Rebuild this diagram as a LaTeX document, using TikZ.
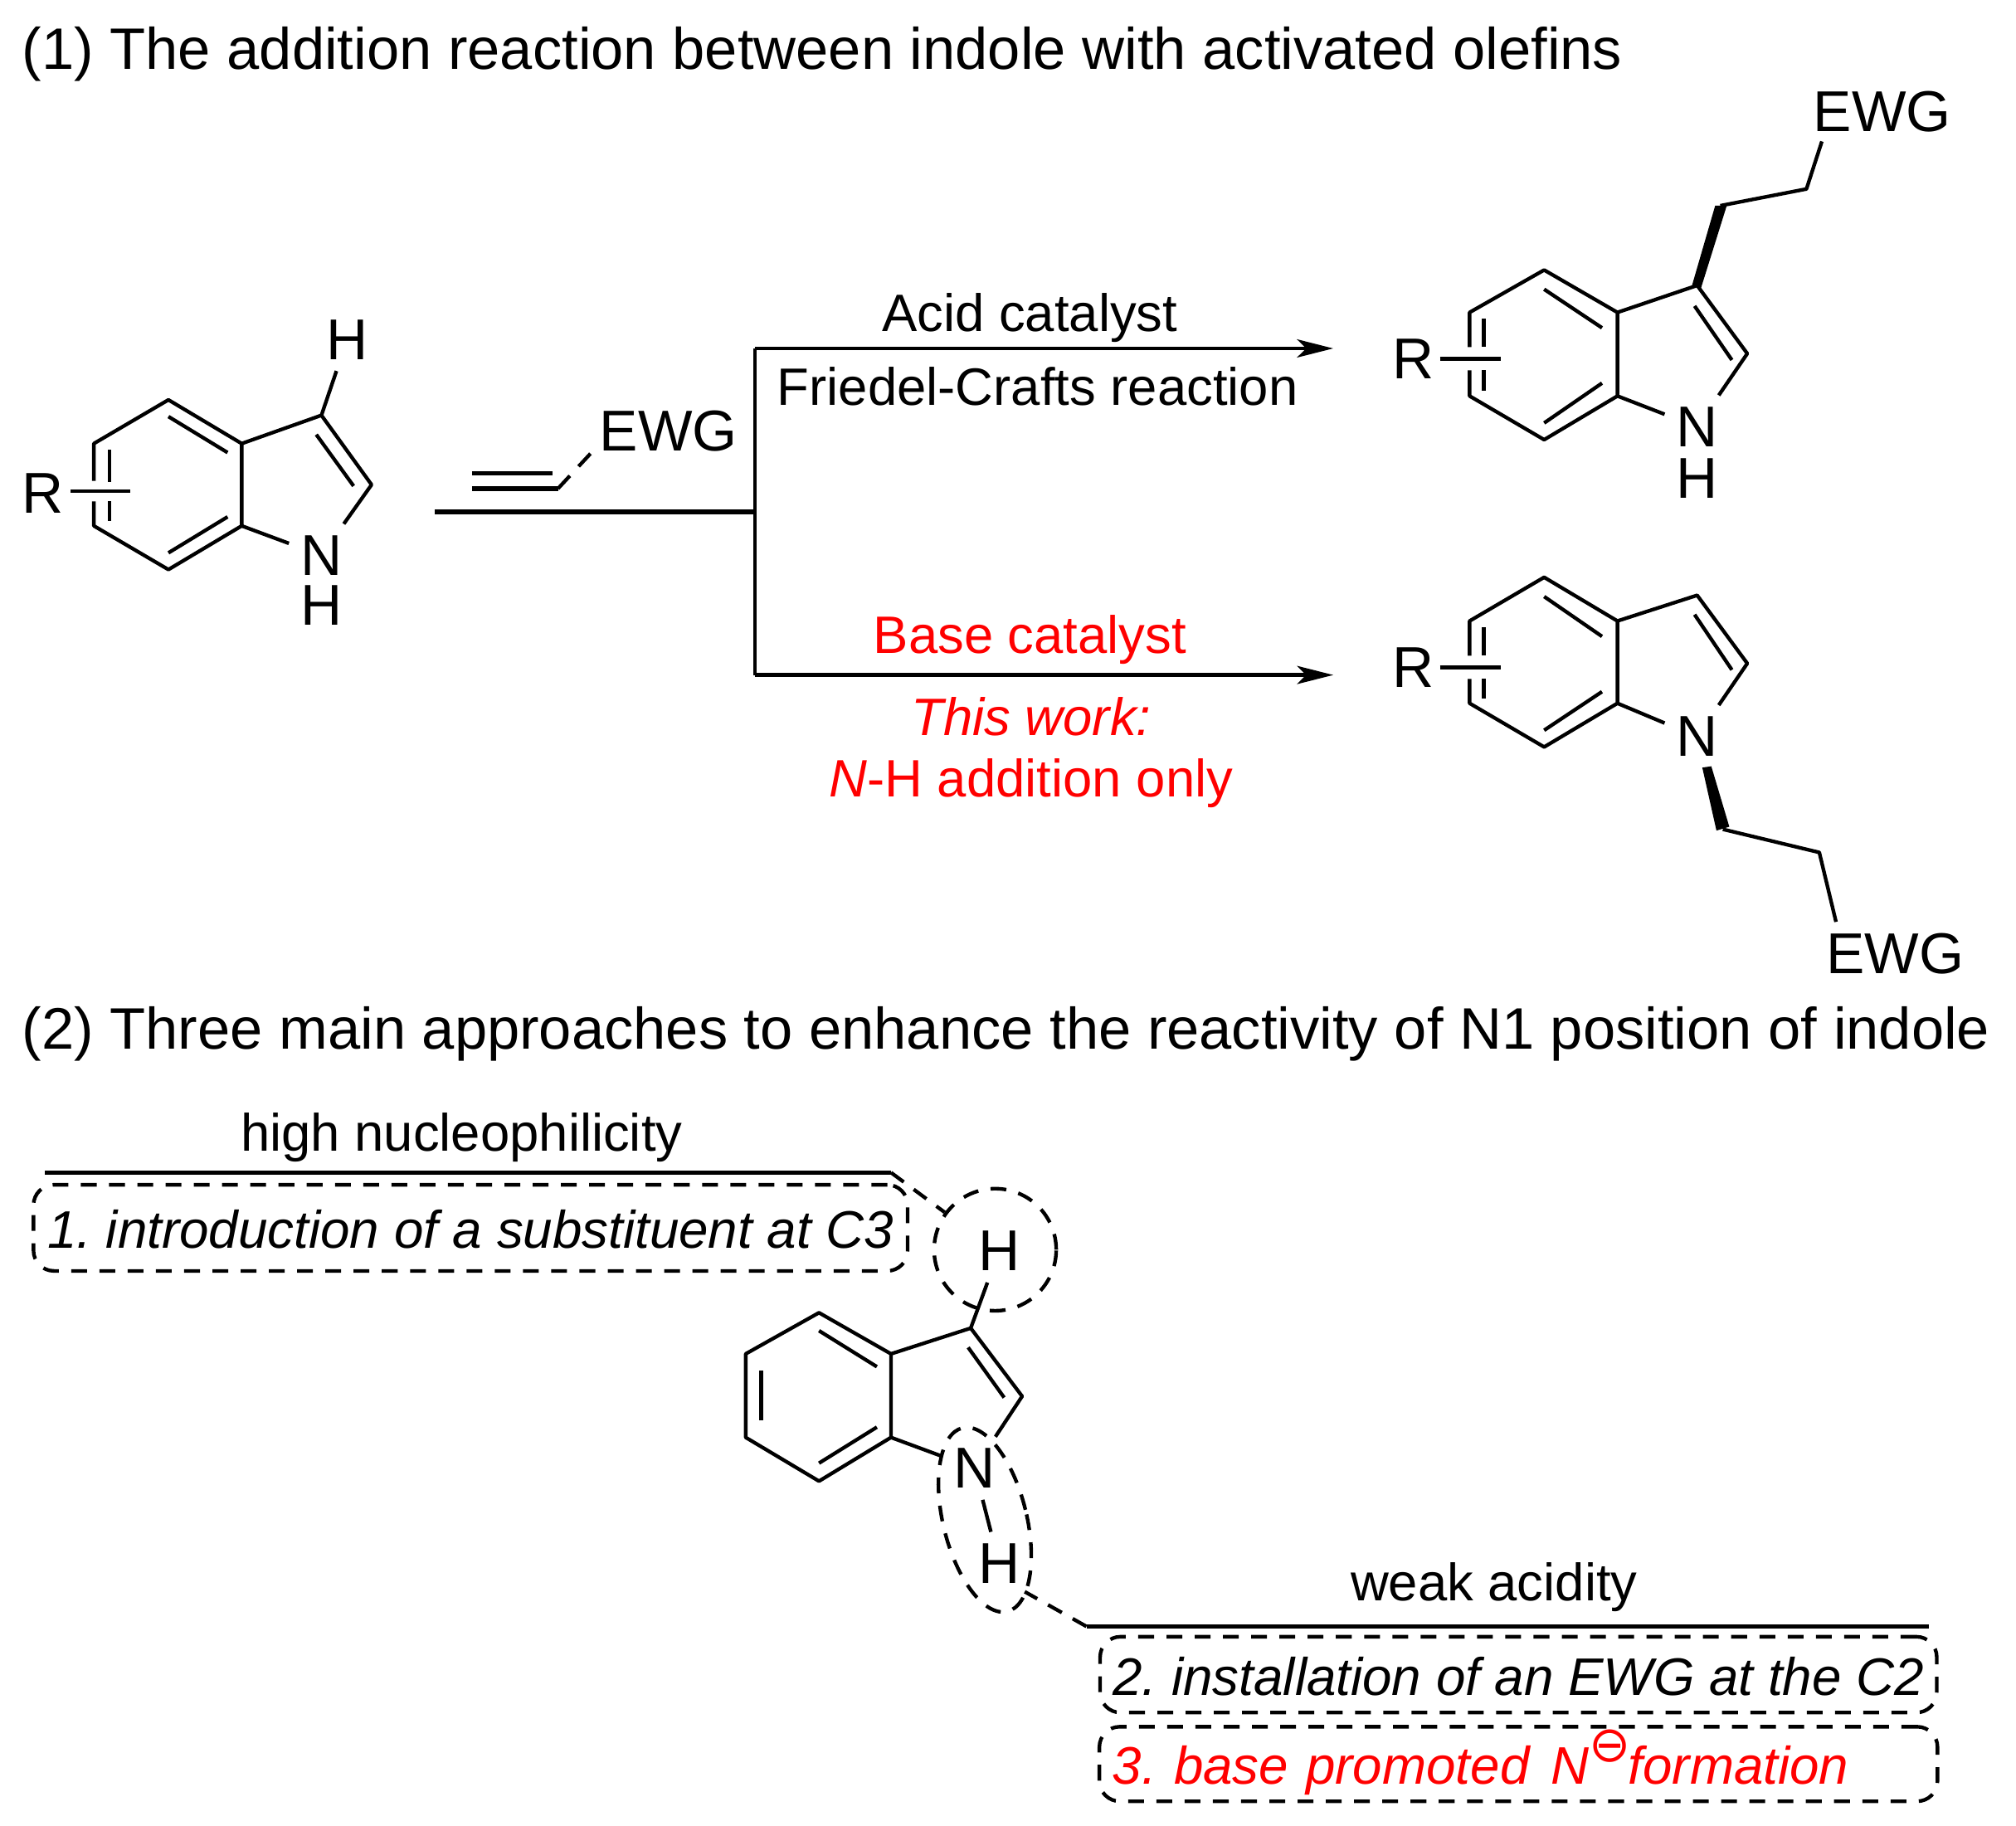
\documentclass[tikz,border=0pt]{standalone}
\usepackage{fontspec}
\setmainfont{Liberation Sans}
\newfontfamily\symfont{DejaVu Sans}
\frenchspacing
\usetikzlibrary{arrows.meta,shapes.geometric}

\tikzset{
  bond/.style={line width=1.6pt,line join=round},
  rule/.style={line width=2pt},
  react/.style={line width=1.7pt,-{Stealth[length=16pt,width=8pt,inset=4pt]}},
  atom/.style={inner sep=5pt,font=\fontsize{25.5}{30}\selectfont},
  hatom/.style={inner sep=0pt,font=\fontsize{25.5}{30}\selectfont},
  caption/.style={inner sep=0pt,anchor=base,font=\fontsize{23.3}{28}\selectfont},
  headline/.style={inner sep=0pt,anchor=base west,font=\fontsize{25.9}{30}\selectfont},
  dashes/.style={line width=1.6pt,dash pattern=on 7pt off 5.5pt},
  dashbox/.style={draw,dashes,rounded corners=9pt,inner xsep=0.2cm,inner ysep=0pt,font=\fontsize{23.4}{28}\itshape\selectfont,text height=20pt,text depth=2pt},
  twoway/.style={bond,dash pattern=on 7.7pt off 5.7pt}
}
\definecolor{workred}{RGB}{255,0,0}

\begin{document}
\begin{tikzpicture}[x=0.02cm,y=-0.02cm]

\useasboundingbox (0,0) rectangle (1568,1419.6);

\node[headline] (title1) at (17,54) {(1) The addition reaction between indole with activated olefins};
\node[headline] (title2) at (17,816) {(2) Three main approaches to enhance the reactivity of N1 position of indole};

\coordinate (a1) at (73,345);
\coordinate (a2) at (131,311);
\coordinate (a3) at (188,345);
\coordinate (a4) at (188,409);
\coordinate (a5) at (131,443);
\coordinate (a6) at (73,409);
\coordinate (a7) at (250,323);
\coordinate (a8) at (289,377);
\node[atom] (an) at (250,432) {N};
\node[hatom] (ah) at (250,471) {H};
\node[atom] (ahtop) at (270,264) {H};
\node[atom] (ar) at (33,384) {R};
\coordinate (ar1) at (55,382);
\coordinate (ar2) at (101,382);
\draw[bond] (73,374) -- (a1) -- (a2) -- (a3) -- (a4) -- (a5) -- (a6) -- (73,390);
\draw[bond] (a3) -- (a7) -- (a8) -- (an);
\draw[bond] (a4) -- (an);
\draw[bond] (a7) -- (ahtop);
\draw[bond] (ar1) -- (ar2);
\draw[bond] (85,350) -- (85,375);
\draw[bond] (85,390) -- (85,405);
\draw[bond] (131,324) -- (177,352);
\draw[bond] (131,430) -- (177,402);
\draw[bond] (246,338) -- (275,378);

\node[atom] (ewga) at (520,335) {EWG};
\coordinate (ole1) at (367,368);
\coordinate (ole2) at (430,368);
\coordinate (ole3) at (367,380);
\coordinate (ole4) at (434,380);
\coordinate (ewgaend) at (460,352);
\draw[rule] (ole1) -- (ole2);
\draw[rule] (ole3) -- (ole4);
\draw[twoway] (ole4) -- (ewgaend);

\coordinate (start) at (338,398);
\coordinate (fork) at (587,398);
\coordinate (forka) at (587,271);
\coordinate (forkb) at (587,525);
\coordinate (enda) at (1037,271);
\coordinate (endb) at (1037,525);
\draw[rule] (start) -- (fork);
\draw[bond] (forka) -- (forkb);
\draw[react] (forka) -- (enda);
\draw[react] (forkb) -- (endb);

\node[caption] (acid) at (801,258) {Acid catalyst};
\node[caption] (fc) at (807,315) {Friedel-Crafts reaction};
\node[caption,text=workred] (basec) at (801,508) {Base catalyst};
\node[caption,text=workred] (work) at (802,572) {\itshape This work:};
\node[caption,text=workred] (nh) at (802,620) {\textit{N}-H addition only};

\coordinate (b1) at (1143,243);
\coordinate (b2) at (1201,210);
\coordinate (b3) at (1258,243);
\coordinate (b4) at (1258,308);
\coordinate (b5) at (1201,342);
\coordinate (b6) at (1143,308);
\coordinate (b7) at (1320,222);
\coordinate (b8) at (1359,275);
\coordinate (b9) at (1338,160);
\coordinate (b10) at (1405,147);
\coordinate (ewgbend) at (1417,110);
\node[atom] (bn) at (1320,332) {N};
\node[hatom] (bh) at (1320,372) {H};
\node[atom] (br) at (1099,279) {R};
\node[atom] (ewgb) at (1464,87) {EWG};
\coordinate (br1) at (1120,279);
\coordinate (br2) at (1167,279);
\draw[bond] (1143,270) -- (b1) -- (b2) -- (b3) -- (b4) -- (b5) -- (b6) -- (1143,288);
\draw[bond] (b3) -- (b7) -- (b8) -- (bn);
\draw[bond] (b4) -- (bn);
\draw[bond] (br1) -- (br2);
\draw[bond] (1154,248) -- (1154,270);
\draw[bond] (1154,288) -- (1154,304);
\draw[bond] (1201,225) -- (1246,255);
\draw[bond] (1201,329) -- (1246,298);
\draw[bond] (1318,238) -- (1347,280);
\draw[bond] (b9) -- (b10) -- (ewgbend);
\fill (1316,222) -- (1323,224) -- (1343,160) -- (1334,160) -- cycle;

\coordinate (c1) at (1143,483);
\coordinate (c2) at (1201,449);
\coordinate (c3) at (1258,483);
\coordinate (c4) at (1258,547);
\coordinate (c5) at (1201,581);
\coordinate (c6) at (1143,547);
\coordinate (c7) at (1320,463);
\coordinate (c8) at (1359,516);
\coordinate (c9) at (1340,645);
\coordinate (c10) at (1415,663);
\coordinate (ewgcend) at (1428,717);
\node[atom] (cn) at (1320,573) {N};
\node[atom] (cr) at (1099,519) {R};
\node[atom] (ewgc) at (1474,742) {EWG};
\coordinate (cr1) at (1120,519);
\coordinate (cr2) at (1167,519);
\draw[bond] (1143,510) -- (c1) -- (c2) -- (c3) -- (c4) -- (c5) -- (c6) -- (1143,528);
\draw[bond] (c3) -- (c7) -- (c8) -- (cn);
\draw[bond] (c4) -- (cn);
\draw[bond] (cr1) -- (cr2);
\draw[bond] (1154,488) -- (1154,510);
\draw[bond] (1154,528) -- (1154,543);
\draw[bond] (1201,464) -- (1246,495);
\draw[bond] (1201,568) -- (1246,538);
\draw[bond] (1318,478) -- (1347,521);
\draw[bond] (c9) -- (c10) -- (ewgcend);
\fill (1324,597) -- (1331,596) -- (1345,643) -- (1335,646) -- cycle;

\coordinate (d1) at (580,1053);
\coordinate (d2) at (637,1021);
\coordinate (d3) at (693,1053);
\coordinate (d4) at (693,1118);
\coordinate (d5) at (637,1152);
\coordinate (d6) at (580,1118);
\coordinate (d7) at (755,1033);
\coordinate (d8) at (795,1086);
\node[atom] (dn) at (758,1142) {N};
\node[atom] (dh) at (777,1216) {H};
\node[atom] (dhtop) at (777,973) {H};
\draw[bond] (d1) -- (d2) -- (d3) -- (d4) -- (d5) -- (d6) -- cycle;
\draw[bond] (d3) -- (d7) -- (d8) -- (dn);
\draw[bond] (d4) -- (dn);
\draw[bond] (d7) -- (dhtop);
\draw[bond] (dn) -- (dh);
\draw[bond] (592,1066) -- (592,1105);
\draw[bond] (637,1035) -- (682,1063);
\draw[bond] (637,1138) -- (682,1110);
\draw[bond] (753,1048) -- (781,1087);

\node[circle,draw,dashes,minimum size=1.9cm,inner sep=0pt] (ringh) at (774,972) {};
\node[ellipse,draw,dashes,minimum width=1.3cm,minimum height=2.94cm,inner sep=0pt,rotate=13.8] (ringnh) at (766,1182) {};

\coordinate (high1) at (35,912);
\coordinate (high2) at (693,912);
\coordinate (weak1) at (845,1265);
\coordinate (weak2) at (1500,1265);
\coordinate (ringend) at (797,1238);
\draw[rule] (high1) -- (high2);
\draw[rule] (weak1) -- (weak2);
\draw[dashes] (high2) -- (ringh);
\draw[dashes] (weak1) -- (ringend);

\node[caption] (high) at (359,895) {high nucleophilicity};
\node[caption] (weak) at (1162,1245) {weak acidity};

\node[dashbox,minimum width=13.6cm,minimum height=1.34cm] (box1) at (366,955) {1. introduction of a substituent at C3};
\node[dashbox,minimum width=12.96cm,minimum height=1.18cm] (box2) at (1181,1302.5) {2. installation of an EWG at the C2};
\node[dashbox,text=workred,text width=12.64cm,align=left,minimum height=1.16cm] (box3) at (1181,1372) {3. base promoted\ \kern1.6pt\textit{N}\raisebox{10pt}{\fontsize{22}{22}\upshape\symfont ⊖}\kern-1pt formation};

\end{tikzpicture}
\end{document}
